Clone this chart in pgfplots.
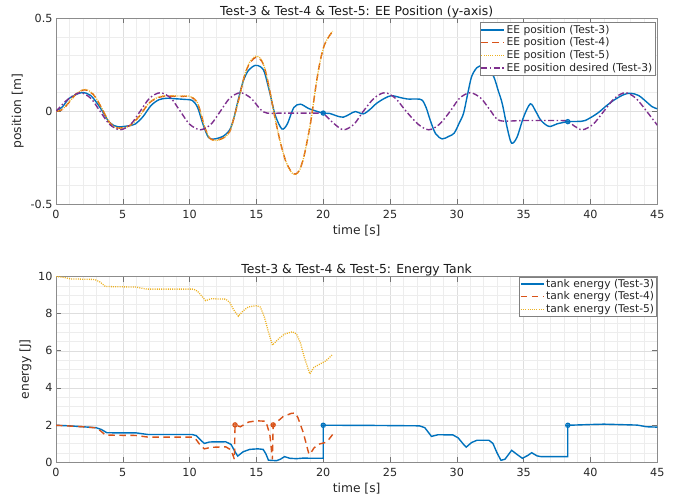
\documentclass[border=0pt]{standalone}
\usepackage{fontspec}
\setmainfont{DejaVu Sans}
\usepackage{pgfplots}
\pgfplotsset{compat=1.18}
\definecolor{mblue}{rgb}{0,0.447,0.741}
\definecolor{mred}{rgb}{0.85,0.325,0.098}
\definecolor{myellow}{rgb}{0.929,0.694,0.125}
\definecolor{mpurple}{rgb}{0.494,0.184,0.556}
\pgfplotsset{
  mstyle/.style={
    scale only axis, width=601.3pt, height=185.5pt, anchor=south west,
    xmin=0, xmax=45, xtick={0,5,...,45},
    minor x tick num=4,
    grid=both,
    major grid style={line width=0.4pt, color=black!13},
    minor grid style={line width=0.4pt, color=black!7},
    axis line style={black!45, line width=0.6pt},
    major tick style={black!55, line width=0.6pt},
    major tick length=5pt, minor tick length=0pt,
    tick align=inside,
    /pgf/number format/assume math mode=true,
    ticklabel style={font=\fontsize{11.2}{13}\selectfont, text=black!85},
    xticklabel style={yshift=-2.5pt},
    label style={font=\fontsize{12.3}{14}\selectfont, text=black!85},
    title style={font=\fontsize{12.4}{14}\selectfont, text=black!90, inner sep=0pt, anchor=south},
    every axis title shift=0pt,
    legend cell align=left,
    legend style={font=\fontsize{10.7}{12}\selectfont, draw=black!50, inner xsep=1pt, inner ysep=1pt, row sep=0.5pt, fill=white, text=black!85,
      nodes={inner xsep=1.5pt, inner ysep=1.3pt}},
    legend image code/.code={\draw[#1] (0pt,0pt) -- (23pt,0pt);},
  },
  s3/.style={mblue, line width=1.4pt, solid},
  s4/.style={mred, line width=1.4pt, dash pattern=on 6.5pt off 4.5pt},
  s5/.style={myellow, line width=1.3pt, dash pattern=on 1pt off 1.2pt},
  sd/.style={mpurple, line width=1.4pt, dash pattern=on 6pt off 2.5pt on 1.5pt off 2.5pt},
}
\begin{document}
\begin{tikzpicture}
\path[use as bounding box] (0,0) rectangle (683pt,499pt);
% ---------- top axis ----------
\begin{axis}[mstyle, at={(56pt,295pt)},
  ymin=-0.5, ymax=0.5, ytick={-0.5,0,0.5}, minor y tick num=4,
  yticklabels={-0.5,0,0.5},
  xlabel={time [s]}, ylabel={position [m]},
  title={Test-3 \& Test-4 \& Test-5: EE Position (y-axis)},
  legend style={at={(rel axis cs:1,1)}, anchor=north east, xshift=-2.3pt, yshift=-4pt},
]
\addplot[s3, smooth] coordinates {
(0,0) (0.5,0.025) (1.0,0.07) (1.9,0.1) (2.6,0.085) (3.3,0.02) (4.0,-0.06) (4.6,-0.083) (5.3,-0.08) (5.9,-0.07) (6.5,-0.03) (7.1,0.03) (7.7,0.062) (8.3,0.07) (9.0,0.067) (9.6,0.064) (10.2,0.058) (10.6,0.02) (11.0,-0.07) (11.4,-0.14) (11.8,-0.15) (12.5,-0.135) (13.0,-0.1) (13.3,-0.04) (13.6,0.05) (14.0,0.16) (14.4,0.22) (14.9,0.247) (15.3,0.24) (15.6,0.21) (16.0,0.1) (16.4,-0.02) (16.9,-0.095) (17.3,-0.07) (17.8,0.02) (18.3,0.038) (18.9,0.015) (19.5,0.0) (20.0,-0.01) (20.5,-0.012) (21.0,-0.025) (21.5,-0.032) (22.0,-0.015) (22.4,-0.002) (23.0,-0.014) (23.5,0.01) (24.0,0.043) (24.6,0.07) (25.1,0.084) (25.7,0.075) (26.3,0.066) (27.0,0.066) (27.4,0.06) (27.7,0.02) (28.0,-0.047) (28.4,-0.12) (28.9,-0.149) (29.4,-0.135) (29.8,-0.118) (30.2,-0.06) (30.5,-0.011) (30.8,0.09) (31.1,0.186) (31.5,0.235) (31.9,0.245) (32.3,0.23) (32.76,0.186) (33.1,0.11) (33.4,0.04) (33.8,-0.1) (34.1,-0.172) (34.5,-0.14) (35.0,-0.03) (35.5,0.04) (35.9,0.0) (36.3,-0.05) (36.9,-0.082) (37.5,-0.068) (38.3,-0.056) (39.0,-0.055) (39.6,-0.05) (40.5,-0.012) (41.2,0.03) (41.8,0.062) (42.5,0.09) (43.0,0.097) (43.6,0.085) (44.2,0.05) (44.6,0.025) (45,0.013)
};
\addlegendentry{EE position (Test-3)}
\addplot[s4, smooth] coordinates {
(0,0) (0.5,0.01) (1.0,0.05) (1.6,0.1) (2.2,0.115) (2.8,0.09) (3.4,0.02) (4.0,-0.06) (4.6,-0.09) (5.2,-0.085) (5.6,-0.073) (6.2,-0.03) (6.7,0.02) (7.1,0.052) (7.7,0.075) (8.3,0.082) (9.2,0.08) (10.0,0.079) (10.5,0.055) (10.8,0.0) (11.1,-0.08) (11.5,-0.145) (11.9,-0.155) (12.5,-0.145) (13.0,-0.11) (13.3,-0.04) (13.7,0.07) (14.1,0.19) (14.5,0.26) (15.0,0.292) (15.4,0.27) (15.7,0.21) (16.0,0.11) (16.4,-0.04) (16.8,-0.17) (17.2,-0.27) (17.6,-0.325) (17.9,-0.339) (18.2,-0.32) (18.5,-0.26) (18.8,-0.16) (19.1,-0.04) (19.5,0.16) (19.8,0.28) (20.1,0.36) (20.4,0.4) (20.7,0.43)
};
\addlegendentry{EE position (Test-4)}
\addplot[s5, smooth] coordinates {
(0,0) (0.5,0.012) (1.0,0.052) (1.6,0.1) (2.2,0.117) (2.8,0.092) (3.4,0.02) (4.0,-0.06) (4.6,-0.092) (5.2,-0.087) (5.6,-0.075) (6.2,-0.03) (6.7,0.02) (7.1,0.054) (7.7,0.077) (8.3,0.084) (9.2,0.082) (10.0,0.081) (10.5,0.057) (10.8,0.0) (11.1,-0.08) (11.5,-0.147) (11.9,-0.157) (12.5,-0.147) (13.0,-0.11) (13.3,-0.04) (13.7,0.07) (14.1,0.19) (14.5,0.265) (15.0,0.298) (15.4,0.275) (15.7,0.21) (16.0,0.11) (16.4,-0.04) (16.8,-0.17) (17.2,-0.27) (17.6,-0.328) (17.9,-0.342) (18.2,-0.322) (18.5,-0.26) (18.8,-0.16) (19.1,-0.04) (19.5,0.16) (19.8,0.28) (20.1,0.36) (20.4,0.4) (20.7,0.432)
};
\addlegendentry{EE position (Test-5)}
\addplot[sd, smooth] coordinates {
(0,0) (0.9,0.065) (1.8,0.1) (2.6,0.07) (3.3,0) (4.0,-0.07) (4.8,-0.1) (5.6,-0.07) (6.3,0) (7.0,0.07) (7.8,0.1) (8.6,0.07) (9.3,0) (10.0,-0.07) (10.8,-0.1) (11.6,-0.07) (12.3,0) (13.0,0.07) (13.8,0.1) (14.6,0.07) (15.3,0.01) (15.8,-0.01) (17,-0.01) (19.5,-0.01) (20,-0.012) (20.7,-0.06) (21.5,-0.1) (22.3,-0.07) (23.0,0) (23.8,0.07) (24.6,0.1) (25.4,0.07) (26.2,0) (27.1,-0.07) (27.9,-0.1) (28.7,-0.07) (29.5,0) (30.2,0.07) (31.0,0.1) (31.8,0.07) (32.5,0.005) (33.2,-0.05) (35,-0.05) (37.8,-0.05) (38.3,-0.055) (38.8,-0.08) (39.4,-0.1) (40.2,-0.07) (41.0,0) (41.8,0.07) (42.6,0.1) (43.4,0.07) (44.2,0) (45,-0.075)
};
\addlegendentry{EE position desired (Test-3)}
\addplot[mblue, only marks, mark=oplus, mark size=2.2pt, line width=1pt, forget plot] coordinates {(20.0,-0.01) (38.3,-0.056)};
\end{axis}
% ---------- bottom axis ----------
\begin{axis}[mstyle, at={(56pt,37pt)},
  ymin=0, ymax=10, ytick={0,2,...,10}, minor y tick num=3,
  xlabel={time [s]}, ylabel={energy [J]},
  title={Test-3 \& Test-4 \& Test-5: Energy Tank},
  legend style={at={(rel axis cs:1,1)}, anchor=north east, xshift=-0.5pt, yshift=0pt},
]
\addplot[s3] coordinates {
(0,1.98) (1.0,1.95) (2.0,1.9) (3.0,1.85) (3.4,1.75) (3.8,1.58) (4.5,1.57) (6.0,1.57) (6.5,1.52) (6.9,1.48) (10.2,1.48) (10.5,1.42) (10.8,1.2) (11.1,1.0) (11.5,1.08) (12.7,1.09) (13.1,0.95) (13.4,0.55) (13.6,0.32) (14.0,0.55) (14.5,0.68) (15.1,0.71) (15.5,0.68) (15.7,0.45) (15.9,0.1) (16.5,0.07) (16.8,0.15) (17.1,0.29) (17.5,0.2) (18.0,0.18) (18.5,0.21) (19.2,0.2) (20.0,0.2) (20.0,1.98) (21,1.98) (24,1.97) (27.2,1.95) (27.6,1.85) (28.1,1.38) (28.6,1.47) (29.7,1.46) (30.1,1.3) (30.5,0.95) (30.7,0.8) (31.1,1.05) (31.5,1.17) (32.4,1.17) (32.7,1.0) (33.0,0.5) (33.3,0.09) (33.6,0.15) (34.1,0.63) (34.5,0.41) (34.9,0.2) (35.3,0.35) (35.6,0.5) (36.0,0.33) (36.3,0.29) (38.3,0.29) (38.3,1.98) (40,2.02) (41,2.04) (43.5,1.99) (44.2,1.9) (45,1.88)
};
\addlegendentry{tank energy (Test-3)}
\addplot[s4] coordinates {
(0,1.98) (2.0,1.9) (3.0,1.84) (3.3,1.7) (3.7,1.45) (6.0,1.43) (6.5,1.38) (6.9,1.34) (10.2,1.34) (10.5,1.2) (10.8,0.9) (11.1,0.71) (11.6,0.79) (12.7,0.82) (13.1,0.65) (13.3,0.25) (13.35,0.14) (13.4,2.0) (13.8,1.9) (14.4,2.15) (15.0,2.22) (15.7,2.2) (16.0,1.5) (16.2,0.14) (16.25,2.0) (16.6,2.2) (17.0,2.45) (17.6,2.62) (17.9,2.64) (18.1,2.4) (18.5,1.6) (18.9,0.5) (19.0,0.41) (19.3,0.75) (19.6,0.95) (20.1,1.04) (20.4,1.2) (20.7,1.48)
};
\addlegendentry{tank energy (Test-4)}
\addplot[s5] coordinates {
(0,10) (0.6,9.95) (1.1,9.87) (2.9,9.84) (3.3,9.7) (3.7,9.46) (6.0,9.43) (6.4,9.37) (6.8,9.32) (10.3,9.32) (10.6,9.2) (10.9,8.95) (11.2,8.7) (11.6,8.8) (12.7,8.78) (13.0,8.6) (13.3,8.2) (13.65,7.86) (14.0,8.15) (14.4,8.36) (15.0,8.43) (15.3,8.35) (15.6,7.8) (15.9,7.0) (16.2,6.3) (16.6,6.6) (17.1,6.9) (17.7,7.02) (18.0,6.9) (18.3,6.4) (18.6,5.6) (19.0,4.75) (19.3,5.1) (19.8,5.3) (20.2,5.45) (20.7,5.8)
};
\addlegendentry{tank energy (Test-5)}
\addplot[mblue, only marks, mark=oplus, mark size=2.2pt, line width=1pt, forget plot] coordinates {(20.0,1.98) (38.3,1.98)};
\addplot[mred, only marks, mark=oplus, mark size=2.2pt, line width=1pt, forget plot] coordinates {(13.4,2.0) (16.25,2.0)};
\end{axis}
\end{tikzpicture}
\end{document}
